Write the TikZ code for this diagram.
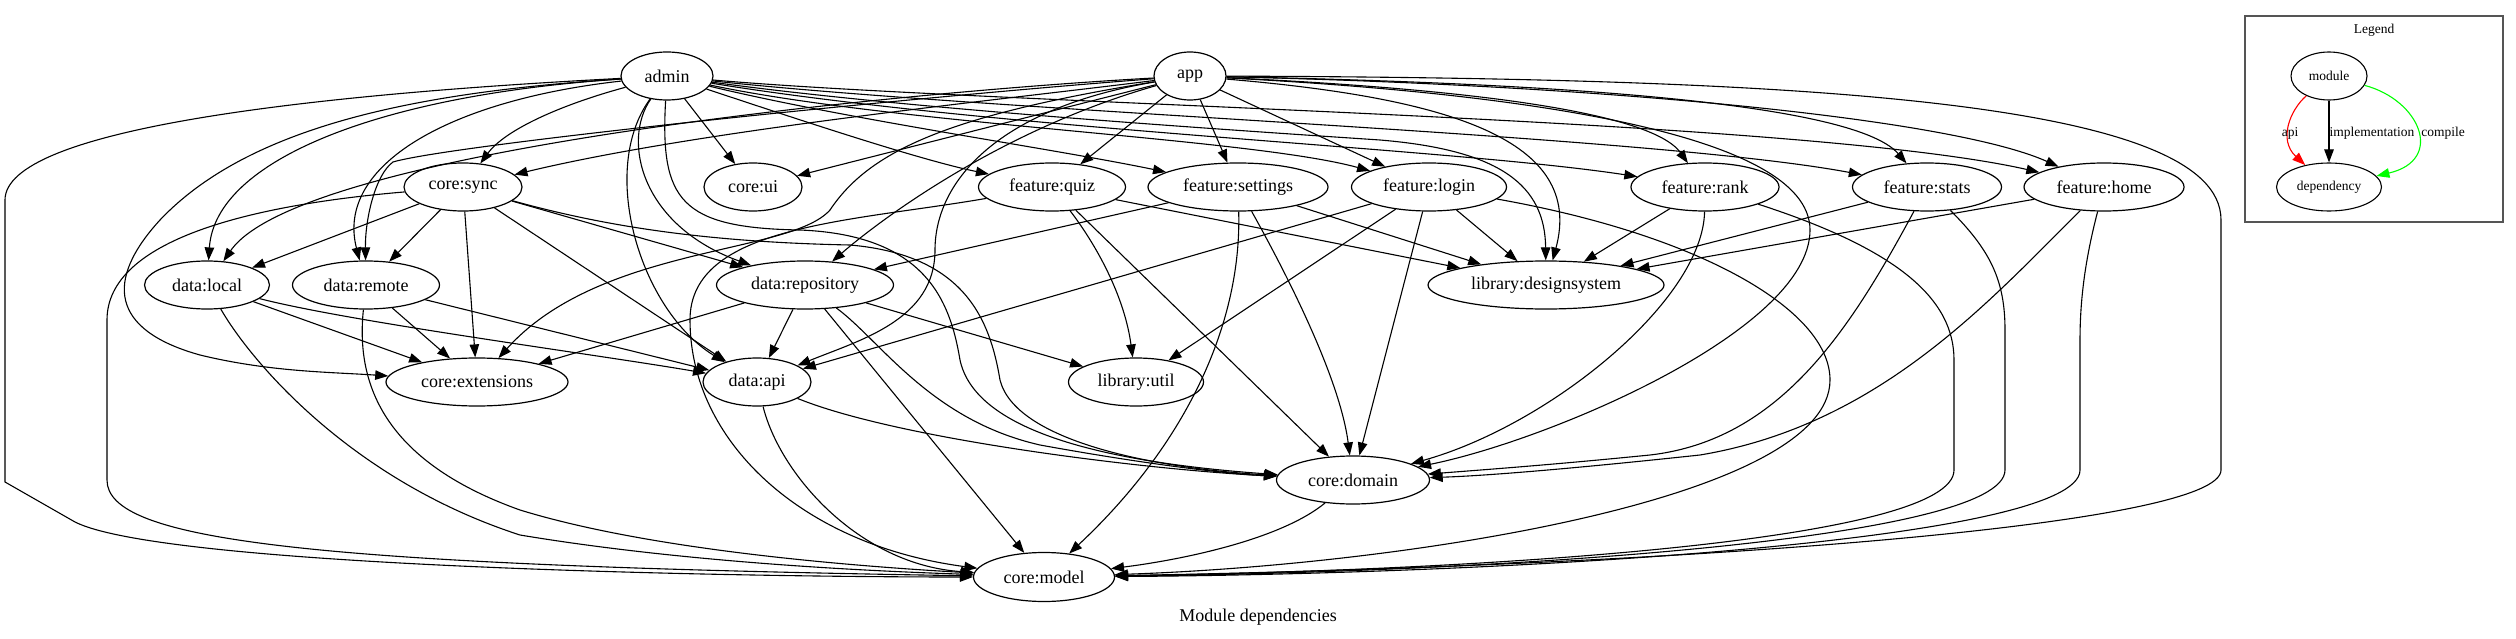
\documentclass[tikz,border=0pt]{standalone}
\usepackage{fontspec}
\setmainfont{Liberation Serif}
\usetikzlibrary{shapes.geometric,arrows.meta}
\definecolor{legendgray}{RGB}{85,85,85}
\definecolor{apired}{RGB}{255,0,0}
\definecolor{compgreen}{RGB}{0,255,0}
\begin{document}
\begin{tikzpicture}[x=1pt,y=-1pt,
  mod/.style={ellipse, draw, line width=1.2pt, minimum height=48pt, inner sep=0pt, font=\fontsize{18}{20}\selectfont},
  lmod/.style={ellipse, draw, line width=1.1pt, minimum height=48pt, inner sep=0pt, font=\fontsize{13.5}{15}\selectfont},
  e/.style={line width=1.1pt, -{Triangle[length=13pt,width=9.5pt]}},
  lbl/.style={font=\fontsize{13.5}{15}\selectfont, inner sep=1pt}]
\useasboundingbox (0,0) rectangle (2516,639);
\fill[white] (0,0) rectangle (2516,639);

% nodes
\node[mod, minimum width=92pt]  (admin)     at (667,76)  {admin};
\node[mod, minimum width=72pt]  (app)       at (1190,76) {app};
\node[mod, minimum width=118pt] (coresync)  at (463,187) {core:sync};
\node[mod, minimum width=98pt]  (coreui)    at (753,187) {core:ui};
\node[mod, minimum width=147pt] (fquiz)     at (1052,187) {feature:quiz};
\node[mod, minimum width=180pt] (fsettings) at (1238,187) {feature:settings};
\node[mod, minimum width=155pt] (flogin)    at (1429,187) {feature:login};
\node[mod, minimum width=148pt] (frank)     at (1705,187) {feature:rank};
\node[mod, minimum width=149pt] (fstats)    at (1927,187) {feature:stats};
\node[mod, minimum width=160pt] (fhome)     at (2104,187) {feature:home};
\node[mod, minimum width=125pt] (dlocal)    at (207,285) {data:local};
\node[mod, minimum width=147pt] (dremote)   at (366,285) {data:remote};
\node[mod, minimum width=177pt] (drepo)     at (805,285) {data:repository};
\node[mod, minimum width=236pt] (designsys) at (1546,285) {library:designsystem};
\node[mod, minimum width=182pt] (coreext)   at (477,382) {core:extensions};
\node[mod, minimum width=108pt] (dapi)      at (757,382) {data:api};
\node[mod, minimum width=135pt] (libutil)   at (1136,382) {library:util};
\node[mod, minimum width=153pt] (cdomain)   at (1353,480) {core:domain};
\node[mod, minimum width=141pt, minimum height=49pt] (cmodel) at (1044,577) {core:model};
\node[font=\fontsize{18}{20}\selectfont] (title) at (1258,617) {Module dependencies};

% admin edges
\draw[e] (admin) .. controls (300,95) and (5,130) .. (5,200) -- (5,482) -- (75,522) .. controls (160,565) and (700,577) .. (cmodel);
\draw[e] (admin) .. controls (420,92) and (250,125) .. (160,220) .. controls (105,280) and (110,330) .. (200,355) .. controls (270,372) and (330,372) .. (coreext);
\draw[e] (admin) .. controls (380,95) and (215,160) .. (dlocal);
\draw[e] (admin) .. controls (450,100) and (335,165) .. (dremote);
\draw[e] (admin) .. controls (560,105) and (505,130) .. (coresync);
\draw[e] (admin) -- (coreui);
\draw[e] (admin) .. controls (622,140) and (640,225) .. (drepo);
\draw[e] (admin) .. controls (598,170) and (640,310) .. (dapi);
\draw[e] (admin) .. controls (660,200) and (680,228) .. (800,230) .. controls (925,235) and (950,300) .. (960,360) .. controls (975,430) and (1100,462) .. (cdomain);
\draw[e] (admin) .. controls (800,120) and (920,160) .. (fquiz);
\draw[e] (admin) .. controls (850,120) and (1050,148) .. (fsettings);
\draw[e] (admin) .. controls (900,125) and (1250,138) .. (flogin);
\draw[e] (admin) .. controls (1000,130) and (1450,148) .. (frank);
\draw[e] (admin) .. controls (1000,112) and (1650,135) .. (fstats);
\draw[e] (admin) .. controls (1000,105) and (1800,118) .. (fhome);
\draw[e] (admin) .. controls (900,108) and (1200,128) .. (1380,140) .. controls (1500,150) and (1545,185) .. (designsys);

% app edges
\draw[e] (app) -- (fquiz);
\draw[e] (app) -- (fsettings);
\draw[e] (app) -- (flogin);
\draw[e] (app) .. controls (1450,88) and (1650,110) .. (frank);
\draw[e] (app) .. controls (1500,82) and (1850,98) .. (fstats);
\draw[e] (app) .. controls (1600,85) and (1950,118) .. (fhome);
\draw[e] (app) .. controls (1450,98) and (1585,140) .. (designsys);
\draw[e] (app) .. controls (1500,92) and (1810,130) .. (1810,230) .. controls (1810,330) and (1550,440) .. (cdomain);
\draw[e] (app) .. controls (1800,78) and (2221,100) .. (2221,220) -- (2221,470) .. controls (2221,525) and (1700,565) .. (cmodel);
\draw[e] (app) -- (coreui);
\draw[e] (app) .. controls (1000,100) and (700,130) .. (coresync);
\draw[e] (app) .. controls (900,92) and (300,150) .. (dlocal);
\draw[e] (app) .. controls (900,98) and (450,145) .. (393,162) .. controls (375,175) and (365,220) .. (dremote);
\draw[e] (app) .. controls (950,115) and (870,150) .. (830,210) .. controls (790,255) and (600,245) .. (coreext);
\draw[e] (app) .. controls (1000,108) and (935,180) .. (935,250) .. controls (935,320) and (860,340) .. (dapi);
\draw[e] (app) .. controls (1000,130) and (880,220) .. (drepo);

% core:sync edges
\draw[e] (coresync) -- (dlocal);
\draw[e] (coresync) -- (dremote);
\draw[e] (coresync) -- (coreext);
\draw[e] (coresync) -- (drepo);
\draw[e] (coresync) -- (dapi);
\draw[e] (coresync) .. controls (600,225) and (700,242) .. (850,245) .. controls (965,255) and (990,320) .. (1000,380) .. controls (1015,440) and (1150,468) .. (cdomain);
\draw[e] (coresync) .. controls (250,205) and (107,240) .. (107,320) -- (107,480) .. controls (107,540) and (300,565) .. (cmodel);

% data:local
\draw[e] (dlocal) .. controls (250,360) and (350,480) .. (520,535) .. controls (700,565) and (900,572) .. (cmodel);
\draw[e] (dlocal) -- (coreext);
\draw[e] (dlocal) .. controls (350,322) and (600,355) .. (dapi);

% data:remote
\draw[e] (dremote) .. controls (356,380) and (380,460) .. (520,510) .. controls (650,550) and (850,566) .. (cmodel);
\draw[e] (dremote) -- (coreext);
\draw[e] (dremote) -- (dapi);

% data:repository
\draw[e] (drepo) -- (dapi);
\draw[e] (drepo) -- (cmodel);
\draw[e] (drepo) .. controls (880,340) and (930,420) .. (1040,445) .. controls (1150,465) and (1230,474) .. (cdomain);
\draw[e] (drepo) -- (coreext);
\draw[e] (drepo) -- (libutil);

% data:api
\draw[e] (dapi) .. controls (900,440) and (1150,470) .. (cdomain);
\draw[e] (dapi) .. controls (780,475) and (860,565) .. (cmodel);

% core:domain
\draw[e] (cdomain) .. controls (1280,540) and (1180,560) .. (cmodel);

% feature:quiz
\draw[e] (fquiz) .. controls (850,222) and (690,225) .. (690,320) .. controls (690,440) and (800,545) .. (cmodel);
\draw[e] (fquiz) .. controls (1100,250) and (1125,300) .. (libutil);
\draw[e] (fquiz) -- (cdomain);
\draw[e] (fquiz) -- (designsys);

% feature:settings
\draw[e] (fsettings) -- (drepo);
\draw[e] (fsettings) .. controls (1242,330) and (1180,450) .. (cmodel);
\draw[e] (fsettings) .. controls (1290,280) and (1340,380) .. (cdomain);
\draw[e] (fsettings) -- (designsys);

% feature:login
\draw[e] (flogin) -- (dapi);
\draw[e] (flogin) -- (libutil);
\draw[e] (flogin) -- (cdomain);
\draw[e] (flogin) -- (designsys);
\draw[e] (flogin) .. controls (1700,235) and (1830,310) .. (1830,380) .. controls (1830,500) and (1400,565) .. (cmodel);

% feature:rank
\draw[e] (frank) -- (designsys);
\draw[e] (frank) .. controls (1703,300) and (1550,425) .. (cdomain);
\draw[e] (frank) .. controls (1900,250) and (1954,300) .. (1954,360) -- (1954,470) .. controls (1954,540) and (1500,570) .. (cmodel);

% feature:stats
\draw[e] (fstats) -- (designsys);
\draw[e] (fstats) .. controls (1850,330) and (1780,440) .. (1650,455) .. controls (1550,465) and (1480,470) .. (cdomain);
\draw[e] (fstats) .. controls (1990,250) and (2005,280) .. (2005,330) -- (2005,470) .. controls (2005,540) and (1500,572) .. (cmodel);

% feature:home
\draw[e] (fhome) -- (designsys);
\draw[e] (fhome) .. controls (1990,300) and (1880,425) .. (1700,455) .. controls (1560,470) and (1480,476) .. (cdomain);
\draw[e] (fhome) .. controls (2085,260) and (2080,300) .. (2080,340) -- (2080,470) .. controls (2080,542) and (1500,574) .. (cmodel);

% legend
\draw[legendgray, line width=2pt] (2245,16) rectangle (2503,222);
\node[lbl] (legtitle) at (2374,30) {Legend};
\node[lmod, minimum width=76pt]  (lmodule) at (2329,76)  {module};
\node[lmod, minimum width=105pt] (ldep)    at (2329,187) {dependency};
\draw[apired, line width=1.1pt, -{Triangle[length=13pt,width=9.5pt]}] (lmodule) .. controls (2290,110) and (2278,140) .. (ldep);
\draw[line width=1.1pt, -{Triangle[length=13pt,width=9.5pt]}] (lmodule) -- (ldep);
\draw[compgreen, line width=1.1pt, -{Triangle[length=13pt,width=9.5pt]}] (lmodule) .. controls (2420,100) and (2445,160) .. (ldep);
\node[lbl] (lapi)  at (2290,133) {api};
\node[lbl] (limpl) at (2372,133) {implementation};
\node[lbl] (lcomp) at (2443,133) {compile};
\end{tikzpicture}
\end{document}
